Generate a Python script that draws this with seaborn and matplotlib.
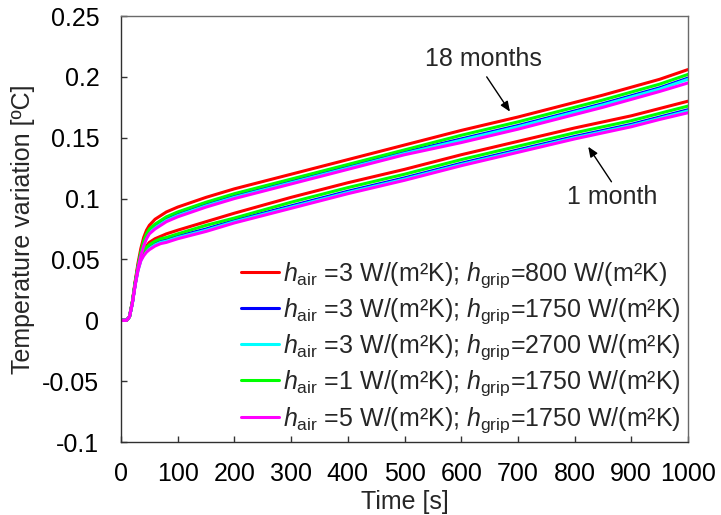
import numpy as np
import pandas as pd
import matplotlib
matplotlib.use("Agg")
import matplotlib.pyplot as plt
import seaborn as sns

# ---------------- data ----------------
time_s = [0, 10, 15, 20, 25, 30, 35, 40, 45, 50, 60, 70, 80, 100, 150, 200, 300, 400, 500, 600, 700, 800, 850, 900, 950, 1000]

# 18 months (upper group)
red_18 = [0, 0, 0.003, 0.015, 0.032, 0.047, 0.059, 0.068, 0.074, 0.078, 0.083, 0.086, 0.089, 0.093, 0.101, 0.108, 0.120, 0.132, 0.144, 0.156, 0.167, 0.179, 0.185, 0.1915, 0.198, 0.206]
blue_18 = [0, 0, 0.003, 0.014, 0.030, 0.044, 0.055, 0.063, 0.069, 0.073, 0.077, 0.080, 0.083, 0.087, 0.095, 0.102, 0.114, 0.126, 0.138, 0.149, 0.160, 0.172, 0.178, 0.1845, 0.191, 0.199]
cyan_18 = [0, 0, 0.003, 0.014, 0.030, 0.043, 0.054, 0.062, 0.068, 0.072, 0.076, 0.079, 0.082, 0.086, 0.094, 0.101, 0.113, 0.125, 0.137, 0.148, 0.159, 0.171, 0.177, 0.1835, 0.190, 0.198]
green_18 = [0, 0, 0.003, 0.015, 0.031, 0.045, 0.056, 0.065, 0.071, 0.075, 0.079, 0.082, 0.085, 0.089, 0.097, 0.104, 0.116, 0.128, 0.140, 0.152, 0.163, 0.175, 0.181, 0.1875, 0.194, 0.202]
magenta_18 = [0, 0, 0.003, 0.014, 0.029, 0.043, 0.053, 0.061, 0.067, 0.071, 0.075, 0.078, 0.081, 0.085, 0.093, 0.100, 0.112, 0.124, 0.136, 0.146, 0.157, 0.169, 0.175, 0.1815, 0.188, 0.195]

# 1 month (lower group)
red_1 = [0, 0, 0.003, 0.015, 0.031, 0.044, 0.053, 0.058, 0.061, 0.064, 0.067, 0.069, 0.071, 0.074, 0.081, 0.088, 0.101, 0.113, 0.124, 0.136, 0.147, 0.158, 0.163, 0.168, 0.174, 0.180]
blue_1 = [0, 0, 0.003, 0.014, 0.030, 0.042, 0.050, 0.055, 0.058, 0.060, 0.063, 0.065, 0.066, 0.069, 0.075, 0.082, 0.094, 0.106, 0.117, 0.129, 0.140, 0.151, 0.156, 0.161, 0.167, 0.173]
cyan_1 = [0, 0, 0.003, 0.014, 0.029, 0.041, 0.049, 0.054, 0.057, 0.059, 0.062, 0.064, 0.065, 0.068, 0.074, 0.081, 0.093, 0.105, 0.116, 0.128, 0.139, 0.150, 0.155, 0.160, 0.166, 0.172]
green_1 = [0, 0, 0.003, 0.015, 0.030, 0.043, 0.052, 0.057, 0.060, 0.062, 0.065, 0.067, 0.068, 0.071, 0.078, 0.084, 0.097, 0.109, 0.120, 0.132, 0.143, 0.154, 0.159, 0.164, 0.170, 0.176]
magenta_1 = [0, 0, 0.003, 0.014, 0.029, 0.041, 0.049, 0.053, 0.056, 0.058, 0.061, 0.063, 0.064, 0.067, 0.073, 0.080, 0.092, 0.104, 0.115, 0.127, 0.138, 0.149, 0.154, 0.159, 0.165, 0.1705]

case_labels = [
    r"$h_{\rm air}$ =3 W/(m²K); $h_{\rm grip}$=800 W/(m²K)",
    r"$h_{\rm air}$ =3 W/(m²K); $h_{\rm grip}$=1750 W/(m²K)",
    r"$h_{\rm air}$ =3 W/(m²K); $h_{\rm grip}$=2700 W/(m²K)",
    r"$h_{\rm air}$ =1 W/(m²K); $h_{\rm grip}$=1750 W/(m²K)",
    r"$h_{\rm air}$ =5 W/(m²K); $h_{\rm grip}$=1750 W/(m²K)",
]
case_colors = ["#ff0000", "#0000ff", "#00ffff", "#00ff00", "#ff00ff"]
series_18 = [red_18, blue_18, cyan_18, green_18, magenta_18]
series_1 = [red_1, blue_1, cyan_1, green_1, magenta_1]

x_ticks = [0, 100, 200, 300, 400, 500, 600, 700, 800, 900, 1000]
y_ticks = [-0.1, -0.05, 0, 0.05, 0.1, 0.15, 0.2, 0.25]
y_tick_labels = ["-0.1", "-0.05", "0", "0.05", "0.1", "0.15", "0.2", "0.25"]

# ---------------- style ----------------
sns.set_style("ticks")
plt.rcParams["font.family"] = ["Liberation Sans", "DejaVu Sans"]
plt.rcParams["mathtext.fontset"] = "custom"
plt.rcParams["mathtext.rm"] = "Liberation Sans"
plt.rcParams["mathtext.it"] = "Liberation Sans:italic"
plt.rcParams["mathtext.bf"] = "Liberation Sans:bold"

FS = 18

fig = plt.figure(figsize=(7.21, 5.15), dpi=100)
ax = fig.add_axes([121 / 721, 1 - 442 / 515, (688 - 121) / 721, (442 - 16) / 515])

rows = []
for lab, s18, s1 in zip(case_labels, series_18, series_1):
    for t, v in zip(time_s, s1):
        rows.append({"t": t, "v": v, "case": lab, "period": "1 month"})
    for t, v in zip(time_s, s18):
        rows.append({"t": t, "v": v, "case": lab, "period": "18 months"})
df = pd.DataFrame(rows)

for lab, col in zip(case_labels, case_colors):
    for per in ["1 month", "18 months"]:
        sub = df[(df["case"] == lab) & (df["period"] == per)]
        sns.lineplot(data=sub, x="t", y="v", ax=ax, color=col, linewidth=2.2,
                     label=lab if per == "1 month" else None, legend=False,
                     estimator=None, sort=False, solid_joinstyle="round")

ax.set_xlim(0, 1000)
ax.set_ylim(-0.1, 0.25)
ax.set_xticks(x_ticks)
ax.set_xticklabels([str(v) for v in x_ticks])
ax.set_yticks(y_ticks)
ax.set_yticklabels(y_tick_labels)
ax.tick_params(direction="in", length=4, width=1, colors="#333333", labelcolor="black",
               labelsize=FS)
ax.tick_params(axis="x", pad=14.5)
ax.tick_params(axis="y", pad=15.5)
for name, sp in ax.spines.items():
    sp.set_visible(True)
    sp.set_linewidth(1.0)
    sp.set_color("#303030" if name in ("left", "bottom") else "#6a6a6a")

ax.set_xlabel("Time [s]", fontsize=FS, labelpad=3)
ax.set_ylabel("Temperature variation [ºC]", fontsize=FS, labelpad=5)

# annotations
ax.text(640, 0.215, "18 months", fontsize=FS, ha="center", va="center")
ax.annotate("", xy=(686, 0.1714), xytext=(645, 0.200),
            arrowprops=dict(arrowstyle="-|>,head_length=0.6,head_width=0.25", color="black",
                            lw=1, shrinkA=0, shrinkB=0))
ax.text(866, 0.101, "1 month", fontsize=FS, ha="center", va="center")
ax.annotate("", xy=(824, 0.1426), xytext=(865, 0.1138),
            arrowprops=dict(arrowstyle="-|>,head_length=0.6,head_width=0.25", color="black",
                            lw=1, shrinkA=0, shrinkB=0))

handles, labels = ax.get_legend_handles_labels()
leg = ax.legend(handles, labels, loc="lower right", frameon=False, fontsize=FS,
                handlelength=1.5, handletextpad=0.15, labelspacing=0.26,
                borderaxespad=0.1, borderpad=0.2)

fig.savefig("out.png", dpi=100)
